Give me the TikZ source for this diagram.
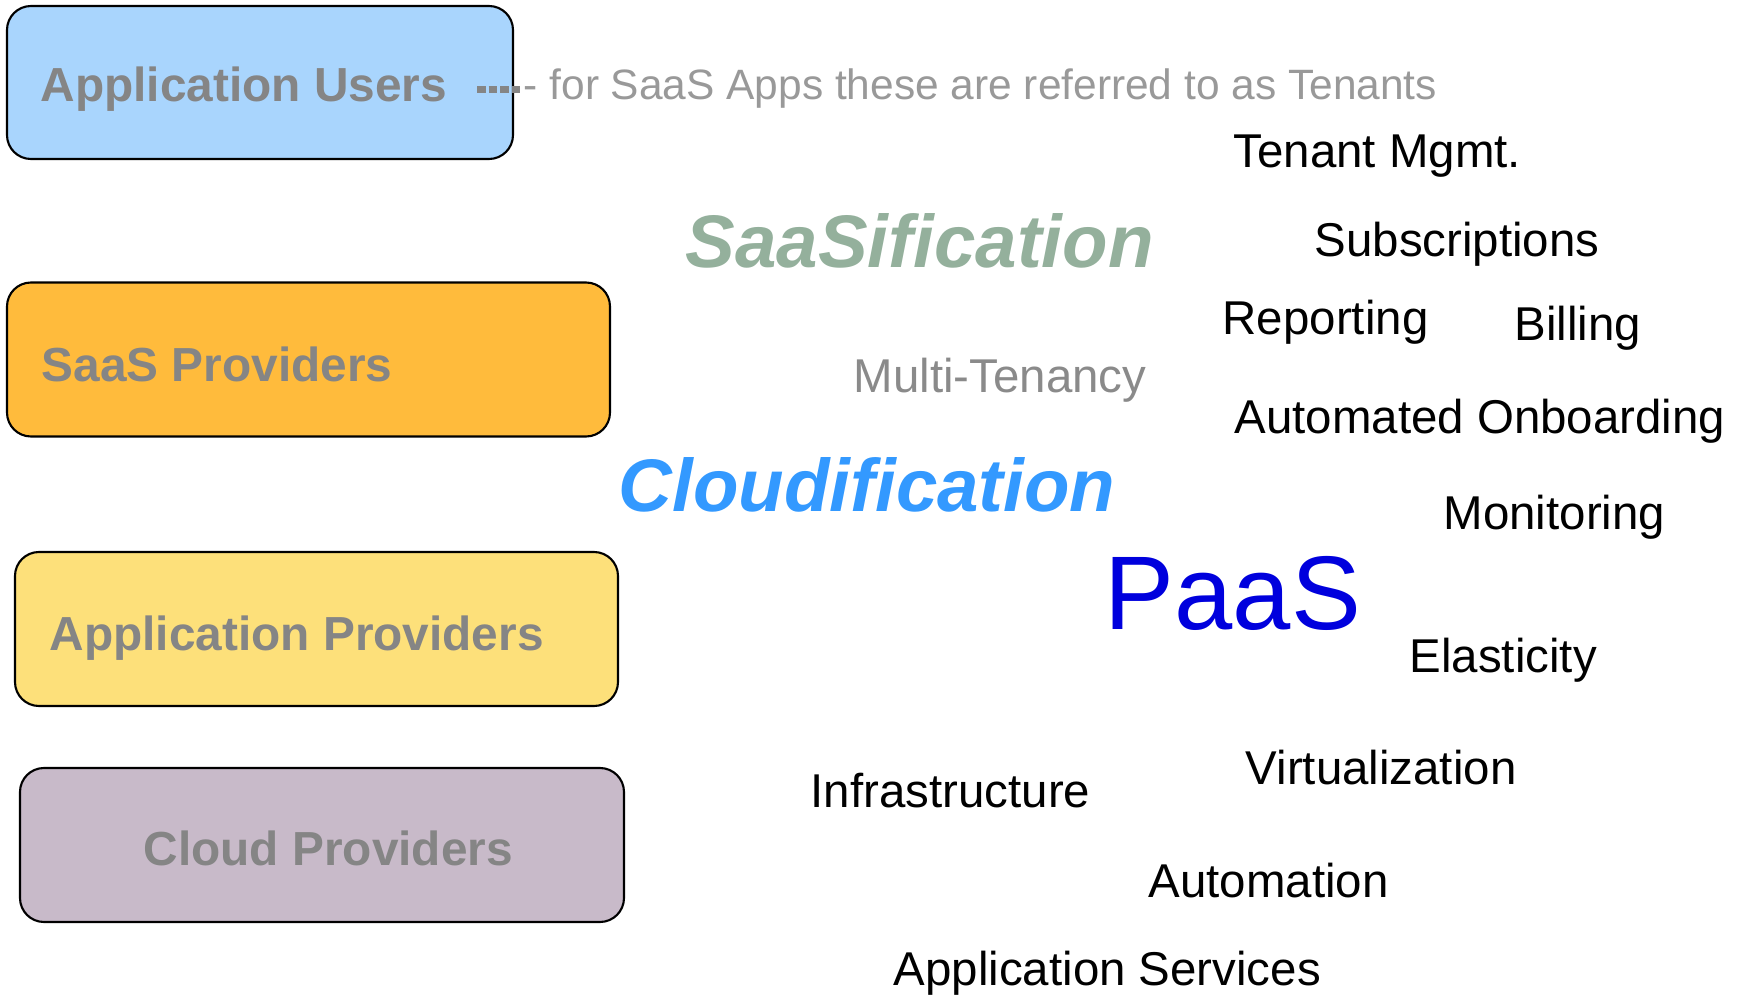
\documentclass[tikz,border=0pt]{standalone}
\usepackage{fontspec}
\setmainfont{Liberation Sans}
\usepackage{tikz}

\definecolor{usersblue}{HTML}{A9D5FD}
\definecolor{saasorange}{HTML}{FFBB3C}
\definecolor{appyellow}{HTML}{FDE07A}
\definecolor{cloudmauve}{HTML}{C8BAC9}
\definecolor{tiergray}{HTML}{858585}
\definecolor{notegray}{HTML}{999999}
\definecolor{saasgreen}{HTML}{94B09C}
\definecolor{cloudblue}{HTML}{3399FF}
\definecolor{paasblue}{HTML}{0000DD}

\tikzset{
	tier/.style={draw=black, line width=0.6pt, rounded corners=0.24cm, inner sep=0pt, minimum height=1.54cm},
	tierlbl/.style={font=\fontsize{13.6}{16}\selectfont\bfseries, text=tiergray, inner sep=0pt, anchor=base west},
	term/.style={font=\fontsize{13.5}{16}\selectfont, inner sep=0pt, anchor=base west},
	buzz/.style={font=\fontsize{21.2}{25}\selectfont\bfseries\itshape, inner sep=0pt, anchor=base west},
	dashline/.style={draw=tiergray, line width=2pt, dash pattern=on 0.085cm off 0.03cm}
}

\begin{document}
\begin{tikzpicture}
					\useasboundingbox (0,0) rectangle (17.48,9.95);
					% Tiers on the left
					\node[tier, fill=usersblue, minimum width=5.06cm, minimum height=1.53cm] (users) at (2.60,9.125) {};
					\node[tier, fill=saasorange, minimum width=6.03cm] (saas) at (3.085,6.355) {};
					\node[tier, fill=appyellow, minimum width=6.03cm] (apps) at (3.165,3.66) {};
					\node[tier, fill=cloudmauve, minimum width=6.04cm] (cloud) at (3.22,1.50) {};
					% Tier labels
					\node[tierlbl] (userslbl) at (0.40,8.93) {Application Users};
					\node[tierlbl] (saaslbl) at (0.41,6.14) {SaaS Providers};
					\node[tierlbl] (appslbl) at (0.49,3.45) {Application Providers};
					\node[tierlbl] (cloudlbl) at (1.43,1.30) {Cloud Providers};
					% Note on the users
					\coordinate (tail) at (4.77,9.055);
					\node[term, font=\fontsize{12.08}{14}\selectfont, text=notegray] (note) at (5.23,8.95) {- for SaaS Apps these are referred to as Tenants};
					\draw[dashline] (tail) -- ([xshift=-0.01cm]tail -| note.west);
					% Buzzwords
					\node[buzz, text=saasgreen] (saasif) at (6.85,7.27) {SaaSification};
					\node[buzz, text=cloudblue] (cloudif) at (6.18,4.83) {Cloudification};
					\node[term, font=\fontsize{29.8}{34}\selectfont, text=paasblue] (paas) at (11.04,3.65) {PaaS};
					\node[term, text=notegray!90!black] (multi) at (8.53,6.03) {Multi-Tenancy};
					% Terms around them
					\foreach \name/\x/\y/\txt in {tenant/12.33/8.27/Tenant Mgmt., subs/13.14/7.38/Subscriptions,
						reporting/12.22/6.61/Reporting, billing/15.14/6.54/Billing,
						onboarding/12.34/5.61/Automated Onboarding, monitoring/14.43/4.66/Monitoring,
						elasticity/14.09/3.22/Elasticity, virtual/12.45/2.11/Virtualization,
						infra/8.10/1.88/Infrastructure, automation/11.48/0.98/Automation,
						appservices/8.93/0.10/Application Services}
						\node[term] (\name) at (\x,\y) {\txt};
				\end{tikzpicture}
\end{document}
